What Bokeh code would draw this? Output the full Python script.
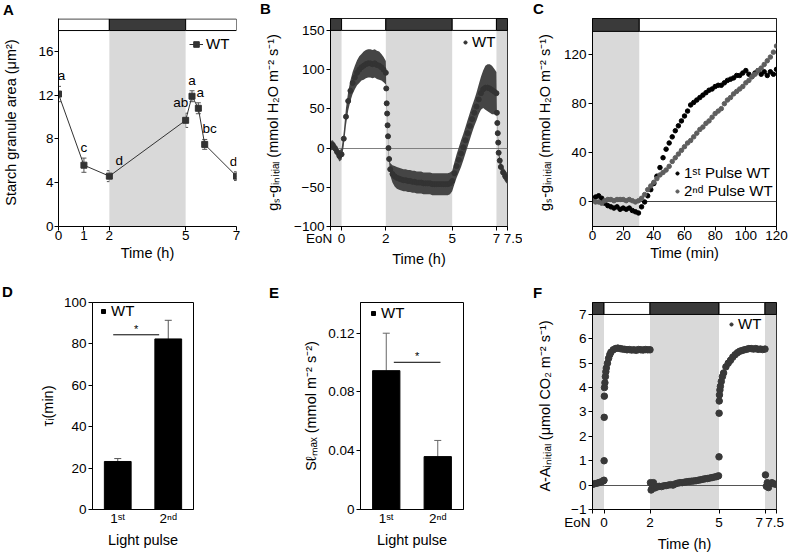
from bokeh.plotting import figure
from bokeh.layouts import row, column
from bokeh.models import (ColumnDataSource, Range1d, FactorRange, FixedTicker, Legend,
                          LegendItem, Whisker, TeeHead, LabelSet, Div)
from bokeh.embed import file_html
from bokeh.resources import INLINE
from bokeh.core.properties import value

# ---------------- data ----------------
# Panel A: starch granule area
time_A = [0, 1, 2, 5, 5.25, 5.5, 5.75, 7]
area_A = [12.1, 5.6, 4.6, 9.7, 11.9, 10.8, 7.5, 4.6]
area_err_A = [0.7, 0.65, 0.5, 0.65, 0.5, 0.5, 0.45, 0.4]
letters_A = ["a", "c", "d", "ab", "a", "a", "bc", "d"]
period_A_start = [0, 2, 5]
period_A_end = [2, 5, 7]
period_A_dark = [False, True, False]
ticks_A_x = [0, 1, 2, 5, 7]
ticks_A_y = [0, 4, 8, 12, 16]

# light / dark periods for panels B and F (h)
period_h_start = [-0.5, 0, 2, 5, 7]
period_h_end = [0, 2, 5, 7, 7.5]
period_h_dark = [True, False, True, False, True]
ticks_h = [-0.5, 0, 2, 5, 7, 7.5]

# Panel B: gs - g_initial
t_B = [-0.5, -0.4, -0.3, -0.2, -0.1, 0.0, 0.1, 0.2, 0.3, 0.4,
       0.5, 0.6, 0.7, 0.8, 0.9, 1.0, 1.1, 1.2, 1.3, 1.4,
       1.5, 1.6, 1.7, 1.8, 1.9, 2.0, 2.02, 2.04, 2.06, 2.08,
       2.1, 2.12, 2.15, 2.2, 2.3, 2.4, 2.5, 2.6, 2.7, 2.8,
       2.9, 3.0, 3.1, 3.2, 3.3, 3.4, 3.5, 3.6, 3.7, 3.8,
       3.9, 4.0, 4.1, 4.2, 4.3, 4.4, 4.5, 4.6, 4.7, 4.8,
       4.9, 5.0, 5.1, 5.2, 5.3, 5.4, 5.5, 5.6, 5.7, 5.8,
       5.9, 6.0, 6.1, 6.2, 6.3, 6.4, 6.5, 6.6, 6.7, 6.8,
       6.9, 7.0, 7.02, 7.04, 7.06, 7.08, 7.1, 7.15, 7.2, 7.3,
       7.4, 7.5]
gs_B = [3, 4, 0, -5, -10, -8, 12, 40, 60, 73,
        83, 90, 96, 100, 103, 105, 107, 108, 108, 107,
        108, 106, 105, 103, 100, 96, 76, 57, 44, 29,
        15, 0, -14, -27, -33, -36, -38, -39, -40, -41,
        -41, -42, -42, -43, -43, -44, -44, -44, -45, -45,
        -45, -45, -46, -46, -46, -46, -46, -46, -46, -46,
        -45, -42, -32, -23, -15, -7, 1, 10, 19, 28,
        37, 45, 53, 62, 70, 75, 77, 77, 76, 74,
        72, 70, 45, 32, 19, 7, -6, -16, -24, -31,
        -36, -39]
gs_err_B = [6, 6, 6, 6, 7, 7, 9, 11, 12, 13,
            14, 15, 16, 17, 17, 18, 18, 18, 18, 18,
            18, 18, 18, 17, 16, 15, 3, 3, 3, 3,
            3, 3, 4, 8, 11, 13, 14, 14, 14, 14,
            14, 14, 14, 14, 14, 14, 14, 14, 14, 14,
            14, 14, 14, 14, 14, 14, 14, 14, 14, 14,
            14, 13, 14, 15, 16, 17, 17, 17, 17, 17,
            17, 17, 18, 19, 21, 24, 28, 30, 31, 31,
            29, 27, 4, 4, 4, 4, 4, 5, 6, 7,
            7, 7]
ticks_B_y = [-100, -50, 0, 50, 100, 150]

# Panel C: two light pulses (min)
t_C = [0, 2, 4, 6, 8, 10, 12, 14, 16, 18,
       20, 22, 24, 26, 28, 30, 32, 34, 36, 38,
       40, 42, 44, 46, 48, 50, 52, 54, 56, 58,
       60, 62, 64, 66, 68, 70, 72, 74, 76, 78,
       80, 82, 84, 86, 88, 90, 92, 94, 96, 98,
       100, 102, 104, 106, 108, 110, 112, 114, 116, 118,
       120]
pulse1_C = [2, 4, 5, 3, -1, -3, -4, -5, -4, -6,
            -5, -6, -5, -7, -8, -9, -4, 0, 5, 10,
            15, 21, 28, 36, 43, 48, 53, 58, 62, 66,
            70, 74, 79, 81, 83, 85, 87, 89, 91, 92,
            94, 95, 95, 97, 99, 100, 101, 103, 103, 105,
            107, 104, 102, 105, 107, 104, 106, 103, 106, 104,
            108]
pulse2_C = [1, 0, 0, -1, 1, 2, 2, 1, 2, 2,
            2, 1, 2, 1, 0, 1, 3, 6, 10, 13,
            16, 19, 22, 24, 26, 29, 33, 36, 39, 42,
            45, 48, 50, 53, 56, 59, 61, 64, 66, 69,
            72, 74, 76, 80, 83, 85, 88, 90, 92, 94,
            97, 99, 102, 104, 107, 109, 112, 115, 118, 122,
            127]
period_C_start = [0, 30.5]
period_C_end = [30.5, 120]
period_C_dark = [True, False]
ticks_C_x = [0, 20, 40, 60, 80, 100, 120]
ticks_C_y = [0, 40, 80, 120]
legend_C = ["1ˢᵗ Pulse WT", "2ⁿᵈ Pulse WT"]

# Panels D and E: light pulses
pulses = ["1ˢᵗ", "2ⁿᵈ"]
tau_D = [23.2, 82.4]
tau_err_D = [1.4, 9.0]
ticks_D_y = [0, 20, 40, 60, 80, 100]
slmax_E = [0.0945, 0.036]
slmax_err_E = [0.0255, 0.011]
ticks_E_y = [0, 0.04, 0.08, 0.12]
ticks_E_labels = ["0", "0.04", "0.08", "0.12"]

# Panel F: A - A_initial
t_F = [-0.5, -0.4, -0.3, -0.2, -0.1, -0.02, 0.0, 0.005, 0.01, 0.015,
       0.02, 0.04, 0.06, 0.08, 0.1, 0.15, 0.2, 0.25, 0.3, 0.4,
       0.5, 0.6, 0.7, 0.8, 0.9, 1.0, 1.1, 1.2, 1.3, 1.4,
       1.5, 1.6, 1.7, 1.8, 1.9, 2.0, 2.02, 2.05, 2.08, 2.1,
       2.15, 2.2, 2.3, 2.4, 2.5, 2.6, 2.7, 2.8, 2.9, 3.0,
       3.1, 3.2, 3.3, 3.4, 3.5, 3.6, 3.7, 3.8, 3.9, 4.0,
       4.1, 4.2, 4.3, 4.4, 4.5, 4.6, 4.7, 4.8, 4.9, 4.98,
       5.0, 5.005, 5.01, 5.02, 5.04, 5.06, 5.1, 5.15, 5.2, 5.3,
       5.4, 5.5, 5.6, 5.7, 5.8, 5.9, 6.0, 6.1, 6.2, 6.3,
       6.4, 6.5, 6.6, 6.7, 6.8, 6.9, 7.0, 7.02, 7.06, 7.1,
       7.15, 7.2, 7.3, 7.4, 7.5]
A_F = [0.03, 0.06, 0.08, 0.11, 0.14, 0.18, 0.2, 1.0, 2.78, 3.65,
       4.0, 4.2, 4.45, 4.65, 4.8, 5.0, 5.2, 5.35, 5.45, 5.55,
       5.6, 5.62, 5.6, 5.58, 5.57, 5.55, 5.56, 5.54, 5.55, 5.53,
       5.56, 5.55, 5.54, 5.56, 5.55, 5.55, 0.1, -0.2, 0.05, -0.1,
       0.1, -0.12, -0.08, -0.05, -0.06, -0.03, -0.02, 0.0, 0.02, 0.0,
       0.05, 0.08, 0.1, 0.1, 0.12, 0.14, 0.15, 0.16, 0.17, 0.18,
       0.2, 0.22, 0.24, 0.26, 0.27, 0.29, 0.31, 0.33, 0.35, 0.38,
       1.16, 2.95, 3.45, 3.7, 3.9, 4.05, 4.25, 4.45, 4.6, 4.85,
       5.0, 5.12, 5.25, 5.35, 5.43, 5.49, 5.52, 5.55, 5.57, 5.6,
       5.6, 5.58, 5.6, 5.57, 5.58, 5.56, 5.58, 0.42, -0.05, 0.1,
       -0.1, 0.05, 0.1, 0.05, 0.03]
ticks_F_y = [-1, 0, 1, 2, 3, 4, 5, 6, 7]

panel_names = ["A", "B", "C", "D", "E", "F"]

# ---------------- styles ----------------
FONT = "Liberation Sans"
DOT = "#333333"
BAR_DARK = "#3a3a3a"
SHADE = "#d9d9d9"
NB = "\u00a0"
letter_dx_A = [3, 0, 10, -5, 0, 2, 5, -3]
letter_pos = [(3, 2), (260, 1), (533, 1), (2, 284), (269, 285), (533, 285)]


def base_fig(w, h, xr, yr, bl, br, bt, bb, outline=True):
    p = figure(width=w, height=h, x_range=xr, y_range=yr, output_backend="svg",
               toolbar_location=None, min_border_left=bl, min_border_right=br,
               min_border_top=bt, min_border_bottom=bb)
    p.grid.visible = False
    p.outline_line_color = "black" if outline else None
    p.background_fill_color = "white"
    p.border_fill_color = "white"
    for ax in p.axis:
        ax.axis_line_color = "black"
        ax.major_tick_line_color = "black"
        ax.major_tick_in = 0
        ax.major_tick_out = 4
        ax.minor_tick_line_color = None
        ax.major_label_text_font = FONT
        ax.major_label_text_font_size = "13.5px"
        ax.major_label_text_color = "black"
        ax.axis_label_text_font = FONT
        ax.axis_label_text_font_size = "14.5px"
        ax.axis_label_text_font_style = "normal"
        ax.axis_label_text_color = "black"
        ax.major_label_standoff = 2
        ax.axis_label_standoff = 4
    return p


def light_bar(p, starts, ends, dark, y_low, y_bar0, y_bar1):
    ds = [s for s, d in zip(starts, dark) if d]
    de = [e for e, d in zip(ends, dark) if d]
    p.quad(left=ds, right=de, bottom=y_low, top=y_bar0, fill_color=SHADE, line_color=None)
    p.quad(left=starts, right=ends, bottom=y_bar0, top=y_bar1,
           fill_color=[BAR_DARK if d else "white" for d in dark],
           line_color="black", line_width=1)


def add_legend(p, items, loc, glyph_w, glyph_h=16, spacing=1):
    lg = Legend(items=items, location=loc, orientation="vertical",
                background_fill_alpha=0, border_line_color=None, padding=0, margin=0,
                spacing=spacing, glyph_width=glyph_w, glyph_height=glyph_h,
                label_height=glyph_h, label_standoff=3, label_text_font=FONT,
                label_text_font_size="15px", label_text_color="black",
                inactive_fill_alpha=0)
    p.add_layout(lg)


# ---------------- Panel A ----------------
pA = base_fig(262, 276, Range1d(0, 7), Range1d(0, 19.0), 54, 26, 17, 50, outline=False)
light_bar(pA, period_A_start, period_A_end, period_A_dark, 0, 17.9, 18.96)
srcA = ColumnDataSource(dict(
    x=time_A, y=area_A,
    lo=[v - e for v, e in zip(area_A, area_err_A)],
    hi=[v + e for v, e in zip(area_A, area_err_A)],
    txt=letters_A, dx=letter_dx_A))
lineA = pA.line("x", "y", source=srcA, line_color=DOT, line_width=1)
pA.add_layout(Whisker(base="x", upper="hi", lower="lo", source=srcA, line_color="#555555",
                      upper_head=TeeHead(size=5, line_color="#555555"),
                      lower_head=TeeHead(size=5, line_color="#555555")))
sqA = pA.scatter("x", "y", source=srcA, marker="square", size=6, fill_color=DOT, line_color=DOT)
pA.add_layout(LabelSet(x="x", y="hi", text="txt", x_offset="dx", y_offset=3, source=srcA,
                       text_align="center", text_baseline="bottom", text_font=value(FONT),
                       text_font_size=value("13.5px"), text_color="black"))
pA.xaxis.ticker = FixedTicker(ticks=ticks_A_x, minor_ticks=[])
pA.yaxis.ticker = FixedTicker(ticks=ticks_A_y, minor_ticks=[])
pA.xaxis.axis_label = "Time (h)"
pA.yaxis.axis_label = "Starch granule area (μm²)"
pA.yaxis.axis_label_standoff = 16
pA.yaxis.major_label_standoff = 1
pA.xaxis.major_label_standoff = 0
pA.xaxis.axis_label_standoff = 2
add_legend(pA, [LegendItem(label="WT", renderers=[lineA, sqA])], (131, 174), 14)

# ---------------- Panel B ----------------
pB = base_fig(260, 276, Range1d(-0.5, 7.5), Range1d(-100, 165.2), 65, 15, 17, 50)
light_bar(pB, period_h_start, period_h_end, period_h_dark, -100, 150, 165.2)
pB.hspan(y=[0], line_color="#808080", line_width=1)
pB.varea(x=t_B, y1=[v - e for v, e in zip(gs_B, gs_err_B)],
         y2=[v + e for v, e in zip(gs_B, gs_err_B)], fill_color="#454545")
dotB = pB.scatter(t_B, gs_B, size=5, fill_color=DOT, line_color=DOT)
pB.xaxis.ticker = FixedTicker(ticks=ticks_h, minor_ticks=[])
pB.xaxis.major_label_overrides = {-0.5: "EoN" + NB * 6, 7.5: NB * 3 + "7.5"}
pB.yaxis.ticker = FixedTicker(ticks=ticks_B_y, minor_ticks=[])
pB.xaxis.axis_label = "Time (h)"
pB.yaxis.axis_label = "gₛ-gᵢₙᵢₜᵢₐₗ (mmol H₂O m⁻² s⁻¹)"
pB.yaxis.axis_label_standoff = 10
pB.xaxis.major_label_standoff = 0
pB.xaxis.axis_label_standoff = 2
add_legend(pB, [LegendItem(label="WT", renderers=[dotB])], (131, 176), 8)

# ---------------- Panel C ----------------
pC = base_fig(269, 276, Range1d(0, 120), Range1d(-20, 149.4), 70, 15, 18, 49)
light_bar(pC, period_C_start, period_C_end, period_C_dark, -20, 138.9, 149.4)
pC.hspan(y=[0], line_color="#444444", line_width=1)
dotC1 = pC.scatter(t_C, pulse1_C, size=4.5, fill_color="black", line_color="black")
dotC2 = pC.scatter(t_C, pulse2_C, size=4.5, fill_color="#5e5e5e", line_color="#5e5e5e")
pC.xaxis.ticker = FixedTicker(ticks=ticks_C_x, minor_ticks=[])
pC.yaxis.ticker = FixedTicker(ticks=ticks_C_y, minor_ticks=[])
pC.xaxis.axis_label = "Time (min)"
pC.yaxis.axis_label = "gₛ-gᵢₙᵢₜᵢₐₗ (mmol H₂O m⁻² s⁻¹)"
pC.yaxis.axis_label_standoff = 8
pC.xaxis.major_label_standoff = 0
pC.xaxis.axis_label_standoff = 2
add_legend(pC, [LegendItem(label=legend_C[0], renderers=[dotC1]),
                LegendItem(label=legend_C[1], renderers=[dotC2])], (81, 27), 8)

# ---------------- Panel D ----------------
pD = base_fig(262, 282, FactorRange(factors=pulses), Range1d(0, 100), 92, 69, 26, 46)
srcD = ColumnDataSource(dict(x=pulses, y=tau_D, hi=[v + e for v, e in zip(tau_D, tau_err_D)]))
pD.vbar(x="x", top="y", width=0.53, source=srcD, fill_color="black", line_color="black")
pD.add_layout(Whisker(base="x", lower="y", upper="hi", source=srcD, line_color="#555555",
                      upper_head=TeeHead(size=7, line_color="#555555"), lower_head=None))
sigD = ColumnDataSource(dict(x0=[(pulses[0], -0.09)], x1=[(pulses[1], -0.18)], y=[84.4],
                             xm=[(pulses[0], 0.365)], t=["*"]))
pD.segment(x0="x0", y0="y", x1="x1", y1="y", source=sigD, line_color="black", line_width=1)
pD.text(x="xm", y="y", text="t", source=sigD, text_align="center", text_baseline="bottom",
        text_font=value(FONT), text_font_size=value("11px"), text_color="black")
legD = pD.scatter(x="x", y="y", source=srcD, marker="square", size=8,
                  fill_color="black", line_color="black", visible=False)
pD.yaxis.ticker = FixedTicker(ticks=ticks_D_y, minor_ticks=[])
pD.xaxis.major_tick_out = 0
pD.xaxis.major_label_standoff = 1
pD.xaxis.axis_label_standoff = 3
pD.xaxis.axis_label = "Light pulse"
pD.yaxis.axis_label = "τᵢ(min)"
pD.yaxis.axis_label_standoff = 5
add_legend(pD, [LegendItem(label="WT", renderers=[legD])], (6, 190), 10)

# ---------------- Panel E ----------------
pE = base_fig(260, 282, FactorRange(factors=pulses), Range1d(0, 0.1409), 98, 59, 25, 48)
srcE = ColumnDataSource(dict(x=pulses, y=slmax_E,
                             hi=[v + e for v, e in zip(slmax_E, slmax_err_E)]))
pE.vbar(x="x", top="y", width=0.53, source=srcE, fill_color="black", line_color="black")
pE.add_layout(Whisker(base="x", lower="y", upper="hi", source=srcE, line_color="#666666",
                      upper_head=TeeHead(size=7, line_color="#666666"), lower_head=None))
sigE = ColumnDataSource(dict(x0=[(pulses[0], 0.147)], x1=[(pulses[1], 0.053)], y=[0.1002],
                             xm=[(pulses[1], -0.4)], t=["*"]))
pE.segment(x0="x0", y0="y", x1="x1", y1="y", source=sigE, line_color="black", line_width=1)
pE.text(x="xm", y="y", text="t", source=sigE, text_align="center", text_baseline="bottom",
        text_font=value(FONT), text_font_size=value("11px"), text_color="black")
legE = pE.scatter(x="x", y="y", source=srcE, marker="square", size=8,
                  fill_color="black", line_color="black", visible=False)
pE.yaxis.ticker = FixedTicker(ticks=ticks_E_y, minor_ticks=[])
pE.yaxis.major_label_overrides = dict(zip(ticks_E_y, ticks_E_labels))
pE.xaxis.major_tick_out = 0
pE.xaxis.major_label_standoff = 1
pE.xaxis.axis_label_standoff = 3
pE.xaxis.axis_label = "Light pulse"
pE.yaxis.axis_label = "Sℓₘₐₓ (mmol m⁻² s⁻²)"
pE.yaxis.axis_label_standoff = 6
add_legend(pE, [LegendItem(label="WT", renderers=[legE])], (8, 188), 10)

# ---------------- Panel F ----------------
pF = base_fig(269, 282, Range1d(-0.5, 7.5), Range1d(-1, 7.49), 70, 15, 25, 49)
light_bar(pF, period_h_start, period_h_end, period_h_dark, -1, 7.0, 7.49)
pF.hspan(y=[0], line_color="#555555", line_width=1)
dotF = pF.scatter(t_F, A_F, size=6.5, fill_color="#383838", line_color="#383838")
pF.xaxis.ticker = FixedTicker(ticks=ticks_h, minor_ticks=[])
pF.xaxis.major_label_overrides = {-0.5: "EoN" + NB * 8, 7: "7" + NB * 3, 7.5: "7.5" + NB}
pF.yaxis.ticker = FixedTicker(ticks=ticks_F_y, minor_ticks=[])
pF.xaxis.axis_label = "Time (h)"
pF.yaxis.axis_label = "A-Aᵢₙᵢₜᵢₐₗ (μmol CO₂ m⁻² s⁻¹)"
pF.yaxis.axis_label_standoff = 15
pF.xaxis.major_label_standoff = 1
pF.xaxis.axis_label_standoff = 3
add_legend(pF, [LegendItem(label="WT", renderers=[dotF])], (135, 177), 8)

# ---------------- panel letters ----------------
letter_divs = []
for name, (lx, ly) in zip(panel_names, letter_pos):
    letter_divs.append(Div(text=name, margin=0, styles={
        "position": "absolute", "left": f"{lx}px", "top": f"{ly}px",
        "font-family": FONT, "font-weight": "bold", "font-size": "15px",
        "line-height": "1", "color": "black"}))

layout = column(row(pA, pB, pC), row(pD, pE, pF), *letter_divs,
                styles={"position": "relative"})
open("out.html", "w").write(file_html(layout, INLINE, title="Figure"))
